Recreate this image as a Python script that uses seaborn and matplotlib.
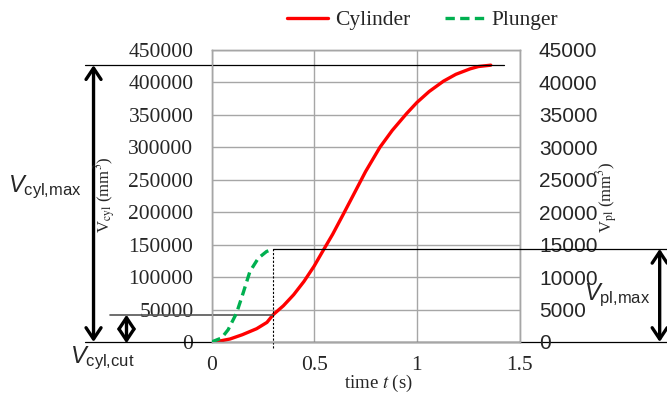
import numpy as np
import pandas as pd
import matplotlib
matplotlib.use('Agg')
import matplotlib.pyplot as plt
import matplotlib.transforms as mtransforms
from matplotlib.lines import Line2D
import seaborn as sns

### data
t_cyl = [0, 0.02, 0.09, 0.15, 0.22, 0.27, 0.30, 0.35, 0.40, 0.45, 0.50, 0.54, 0.59, 0.64,
         0.69, 0.75, 0.82, 0.88, 0.95, 1.00, 1.06, 1.13, 1.19, 1.26, 1.30, 1.36]
v_cyl = [0, 300, 4600, 11200, 20500, 30200, 42000, 55800, 72800, 93200, 117000, 139000,
         166000, 195800, 226000, 262500, 300000, 326000, 352000, 369000, 386000, 402000,
         412500, 421000, 424500, 426600]

t_pl = [0, 0.049, 0.081, 0.122, 0.154, 0.187, 0.228, 0.268, 0.30]
v_pl = [0, 615, 1890, 4460, 7540, 10860, 12920, 13940, 14350]

left_ticks = list(range(0, 450001, 50000))
right_ticks = list(range(0, 45001, 5000))
x_ticks = [0, 0.5, 1, 1.5]

cyl = pd.DataFrame({'t': t_cyl, 'V': v_cyl})
pl = pd.DataFrame({'t': t_pl, 'V': v_pl})

sns.set_style('white')
plt.rcParams['font.family'] = ['Liberation Serif', 'DejaVu Serif']
plt.rcParams['mathtext.fontset'] = 'custom'
plt.rcParams['mathtext.rm'] = 'Liberation Sans'
plt.rcParams['mathtext.it'] = 'Liberation Sans:italic'

RED = '#ff0000'
GREEN = '#00b050'
GRID = '#a6a6a6'

fig = plt.figure(figsize=(6.67, 3.96), dpi=100)
ax = fig.add_axes([0.3171, 0.1364, 0.4618, 0.7374])
ax2 = ax.twinx()

sns.lineplot(data=cyl, x='t', y='V', ax=ax, color=RED, lw=2.4, zorder=5)
sns.lineplot(data=pl, x='t', y='V', ax=ax2, color=GREEN, lw=2.4, zorder=5)
ax2.lines[0].set_dashes((2.8, 1.6))

ax.set_xlim(0, 1.5)
ax.set_ylim(0, 450000)
ax2.set_ylim(0, 45000)
ax.set_xticks(x_ticks)
ax.set_xticklabels(['0', '0.5', '1', '1.5'])
ax.set_yticks(left_ticks)
ax.set_yticklabels([str(v) for v in left_ticks])
ax2.set_yticks(right_ticks)
ax2.set_yticklabels([str(v) for v in right_ticks])
ax.tick_params(axis='y', length=0, pad=13, labelsize=15.5)
ax.tick_params(axis='x', length=0, pad=10, labelsize=15.5)
ax2.tick_params(axis='y', length=0, pad=14, labelsize=15)
for lab in ax2.get_yticklabels():
    lab.set_family(['Liberation Sans', 'DejaVu Sans'])

ax.grid(True, color=GRID, lw=1)
for a in (ax, ax2):
    for s in a.spines.values():
        s.set_color(GRID)
        s.set_linewidth(1)
ax.set_xlabel('')
ax.set_ylabel('')
ax2.set_ylabel('')

# guide lines outside the plot
cyl_max = max(v_cyl)
pl_max = max(v_pl)
t_cut = t_pl[-1]
v_cut = v_cyl[t_cyl.index(t_cut)]
ax.axhline(cyl_max, xmin=-0.412, xmax=0.948, color='black', lw=0.9, clip_on=False, zorder=6)
ax.axhline(0, xmin=-0.412, xmax=1.48, color='black', lw=0.9, clip_on=False, zorder=6)
ax.axhline(v_cut, xmin=-0.328, xmax=t_cut / 1.5, color='#555555', lw=1.2, clip_on=False, zorder=6)
ax2.axhline(pl_max, xmin=t_cut / 1.5, xmax=1.48, color='black', lw=0.9, clip_on=False, zorder=6)
ax.plot([t_cut, t_cut], [-9000, pl_max * 10], color='black', lw=0.8, ls=(0, (2, 1.5)),
        clip_on=False, zorder=6)

# double arrows
trans = mtransforms.blended_transform_factory(ax.transAxes, ax.transData)
arrow = dict(arrowstyle='<->,head_length=0.45,head_width=0.3', lw=2.4, color='black',
             mutation_scale=18, shrinkA=0, shrinkB=0)
ax.annotate('', xy=(-0.383, cyl_max), xytext=(-0.383, 0), xycoords=trans, textcoords=trans,
            arrowprops=arrow, annotation_clip=False)
ax.annotate('', xy=(-0.276, v_cut), xytext=(-0.276, -2000), xycoords=trans, textcoords=trans,
            arrowprops=arrow, annotation_clip=False)
ax.annotate('', xy=(1.455, pl_max * 10), xytext=(1.455, 0), xycoords=trans, textcoords=trans,
            arrowprops=arrow, annotation_clip=False)

# labels
fig.text(8 / 667, 1 - 187 / 396, r'$V_{\mathrm{cyl{,}max}}$', fontsize=17, va='center',
         math_fontfamily='custom')
fig.text(70 / 667, 1 - 358 / 396, r'$V_{\mathrm{cyl{,}cut}}$', fontsize=17, va='center',
         math_fontfamily='custom')
fig.text(584 / 667, 1 - 295 / 396, r'$V_{\mathrm{pl{,}max}}$', fontsize=17, va='center',
         math_fontfamily='custom')

fig.text(105 / 667, 1 - 195 / 396, r'V$_{\mathrm{cyl}}$ (mm$^{3}$)', fontsize=12,
         rotation=90, ha='center', va='center', math_fontfamily='stix')
fig.text(607 / 667, 1 - 197 / 396, r'V$_{\mathrm{pl}}$ (mm$^{3}$)', fontsize=12,
         rotation=90, ha='center', va='center', math_fontfamily='stix')
fig.text(378 / 667, 1 - 383 / 396, r'time $t$ (s)', fontsize=13.5, ha='center', va='center',
         math_fontfamily='stix')

# legend
handles = [Line2D([], [], color=RED, lw=2.4),
           Line2D([], [], color=GREEN, lw=2.4, dashes=(2.8, 1.6))]
fig.legend(handles, ['Cylinder', 'Plunger'], loc='center', bbox_to_anchor=(423 / 667, 1 - 20 / 396),
           ncol=2, frameon=False, fontsize=15.5, handlelength=1.9, handletextpad=0.3,
           columnspacing=1.6)

fig.savefig('out.png', dpi=100)
